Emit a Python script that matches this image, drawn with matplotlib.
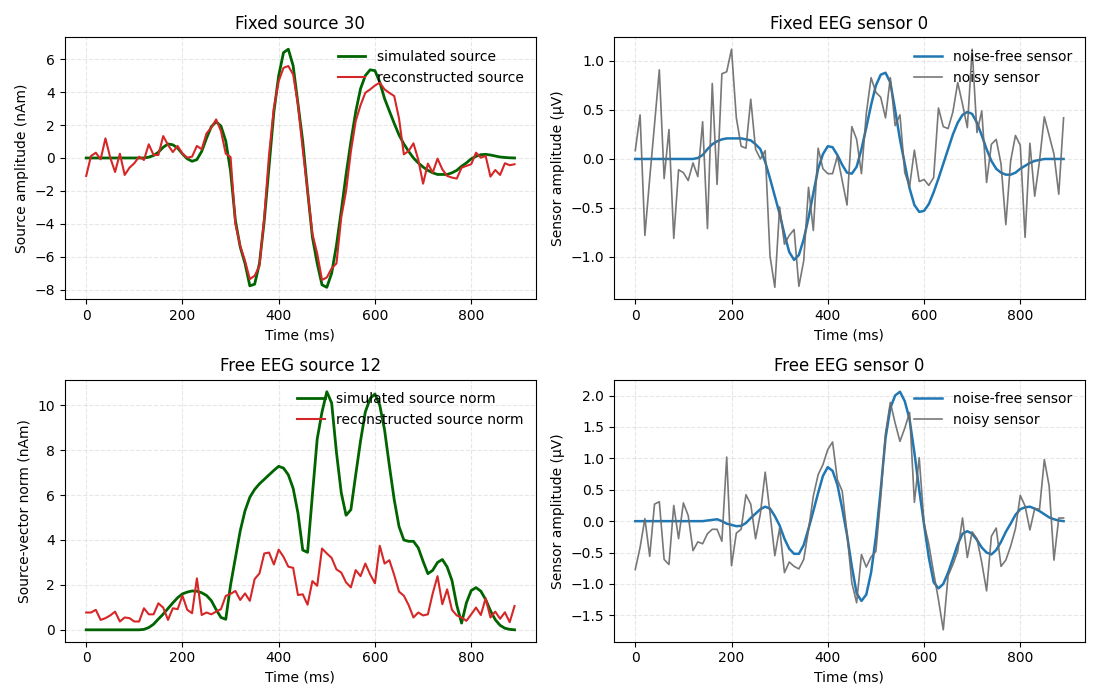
import numpy as np
import matplotlib
matplotlib.use("Agg")
import matplotlib.pyplot as plt

# time axis (ms), one sample every 10 ms
times = np.arange(0, 900, 10)

# Fixed source 30 (nAm)
fixed_sim = [0, 0, 0, 0, 0, 0, 0, 0, 0, 0,
             0, 0, 0, 0.05, 0.15, 0.35, 0.65, 0.85, 0.8, 0.6,
             0.25, -0.05, -0.2, -0.1, 0.4, 1.2, 1.9, 2.2, 1.94, 1.03,
             -0.8, -3.8, -5.4, -6.4, -7.76, -7.66, -6.4, -3.8, -0.5, 2.8,
             5.0, 6.4, 6.6, 5.6, 3.3, 1.0, -2.0, -4.8, -6.4, -7.7,
             -7.85, -7.0, -5.3, -3.2, -1.0, 1.0, 2.8, 4.2, 5.0, 5.35,
             5.3, 4.6, 3.6, 2.85, 2.1, 1.4, 0.85, 0.4, 0.0, -0.3,
             -0.55, -0.75, -0.9, -1.0, -1.0, -1.0, -0.9, -0.75, -0.5, -0.3,
             -0.05, 0.1, 0.2, 0.22, 0.18, 0.12, 0.06, 0.03, 0.01, 0.0]
fixed_rec = [-1.09, 0.12, 0.32, -0.08, 1.19, 0.02, -0.85, 0.26, -1.03, -0.59,
             -0.32, 0.08, -0.12, 0.83, 0.18, 0.18, 1.33, 0.79, 0.36, 0.73,
             0.26, 0.02, 0.08, 0.73, 0.53, 1.49, 1.84, 2.34, 1.64, 0.26,
             0.06, -4.0, -5.33, -6.24, -7.35, -7.15, -6.55, -3.6, 0.22, 3.05,
             4.67, 5.47, 5.58, 5.07, 3.25, 0.5, -2.0, -4.6, -5.8, -7.4,
             -7.25, -6.7, -6.4, -3.6, -2.0, 0.4, 2.24, 3.2, 3.96, 4.16,
             4.4, 4.57, 4.16, 3.95, 3.76, 2.4, 0.22, 0.42, 0.89, -0.1,
             -1.56, -0.34, -0.89, -0.04, -0.69, -1.09, -1.19, -1.25, -0.59, -0.48,
             -0.38, 0.32, 0.02, 0.12, -1.13, -0.73, -1.03, -0.32, -0.44, -0.38]

# Fixed EEG sensor 0 (uV)
fixed_clean = [0, 0, 0, 0, 0, 0, 0, 0, 0, 0,
               0, 0, 0, 0.01, 0.04, 0.1, 0.15, 0.18, 0.2, 0.21,
               0.21, 0.21, 0.21, 0.2, 0.19, 0.15, 0.1, -0.03, -0.2, -0.38,
               -0.56, -0.77, -0.95, -1.03, -0.98, -0.82, -0.6, -0.35, -0.1, 0.05,
               0.13, 0.12, 0.04, -0.06, -0.14, -0.15, -0.08, 0.1, 0.32, 0.55,
               0.75, 0.86, 0.88, 0.78, 0.5, 0.2, -0.05, -0.3, -0.47, -0.54,
               -0.53, -0.46, -0.34, -0.2, -0.05, 0.1, 0.25, 0.37, 0.45, 0.48,
               0.46, 0.37, 0.24, 0.1, -0.02, -0.1, -0.14, -0.16, -0.16, -0.14,
               -0.1, -0.07, -0.04, -0.02, -0.01, 0, 0, 0, 0, 0]
fixed_noisy = [0.085, 0.45, -0.78, -0.2, 0.35, 0.91, -0.2, 0.3, -0.81, -0.11,
               -0.14, -0.22, -0.04, -0.18, 0.38, -0.71, 0.77, -0.26, 0.87, 0.89,
               1.12, 0.42, 0.13, 0.11, 0.61, 0.1, 0.0, 0.085, -0.99, -1.31,
               -0.49, -0.87, -0.78, -0.72, -1.3, -1.04, -0.29, -0.73, 0.11, -0.1,
               -0.15, -0.15, 0.03, -0.22, -0.47, 0.33, 0.2, -0.15, 0.46, 0.83,
               0.68, 0.63, 0.42, 0.83, 0.34, 0.45, -0.14, -0.28, 0.09, -0.23,
               -0.21, -0.27, -0.19, 0.52, 0.33, 0.31, 0.48, 0.78, 0.56, 0.32,
               1.12, 0.27, 0.49, -0.24, 0.15, 0.2, -0.05, -0.67, -0.02, 0.24,
               0.14, -0.8, 0.16, -0.38, -0.02, 0.43, 0.24, 0.05, -0.36, 0.42]

# Free EEG source 12 (nAm, vector norm)
free_sim = [0, 0, 0, 0, 0, 0, 0, 0, 0, 0,
            0, 0, 0.02, 0.1, 0.25, 0.48, 0.7, 0.95, 1.2, 1.43,
            1.6, 1.68, 1.73, 1.72, 1.65, 1.53, 1.3, 0.9, 0.55, 0.47,
            2.0, 3.2, 4.4, 5.3, 5.9, 6.25, 6.5, 6.7, 6.9, 7.1,
            7.28, 7.2, 6.9, 6.3, 5.2, 3.55, 3.45, 6.0, 8.5, 9.7,
            10.6, 10.1, 7.9, 6.1, 5.1, 5.35, 6.9, 8.4, 9.7, 10.3,
            10.5, 10.0, 8.9, 7.3, 5.8, 4.6, 4.0, 3.94, 3.94, 3.65,
            3.05, 2.5, 2.65, 3.0, 3.13, 2.8, 2.2, 1.1, 0.3, 1.2,
            1.75, 1.88, 1.72, 1.35, 0.85, 0.45, 0.2, 0.07, 0.02, 0.0]
free_rec = [0.77, 0.77, 0.89, 0.44, 0.52, 0.64, 0.81, 0.37, 0.55, 0.52,
            0.37, 0.37, 0.96, 0.69, 0.69, 1.18, 0.99, 0.44, 0.96, 0.92,
            1.52, 0.89, 0.74, 2.29, 0.66, 0.77, 0.69, 0.81, 0.92, 1.51,
            1.6, 1.73, 1.33, 1.62, 1.29, 2.26, 2.51, 3.4, 3.44, 2.91,
            3.57, 3.25, 2.81, 2.76, 1.55, 1.58, 1.12, 2.17, 1.96, 3.62,
            3.4, 3.2, 2.69, 2.55, 2.11, 1.89, 2.66, 2.39, 2.95, 2.47,
            2.07, 3.74, 2.95, 3.1, 2.44, 1.7, 1.52, 1.1, 0.55, 0.77,
            0.64, 0.69, 1.62, 2.39, 1.14, 1.8, 0.89, 0.64, 0.55, 0.4,
            0.69, 0.99, 0.66, 1.4, 0.55, 0.81, 0.49, 0.78, 0.34, 1.06]

# Free EEG sensor 0 (uV)
free_clean = [0, 0, 0, 0, 0, 0, 0, 0, 0, 0,
              0, 0, 0, 0, 0, 0.01, 0.02, 0.03, 0.0, -0.04,
              -0.06, -0.08, -0.075, -0.03, 0.05, 0.12, 0.19, 0.23, 0.2, 0.08,
              -0.07, -0.28, -0.44, -0.52, -0.52, -0.38, -0.12, 0.16, 0.45, 0.72,
              0.86, 0.8, 0.58, 0.2, -0.22, -0.72, -1.15, -1.27, -1.17, -0.82,
              -0.25, 0.5, 1.32, 1.8, 2.0, 2.06, 1.91, 1.62, 1.09, 0.5,
              -0.05, -0.58, -0.97, -1.07, -1.0, -0.82, -0.6, -0.37, -0.2, -0.16,
              -0.2, -0.3, -0.42, -0.5, -0.53, -0.46, -0.33, -0.17, -0.04, 0.1,
              0.19, 0.22, 0.23, 0.2, 0.16, 0.11, 0.06, 0.03, 0.01, 0.0]
free_noisy = [-0.77, -0.42, 0.04, -0.56, 0.27, 0.31, -0.61, -0.69, 0.25, -0.28,
              0.29, 0.09, -0.47, -0.33, -0.36, -0.2, -0.13, -0.13, -0.32, 1.02,
              -0.71, -0.19, -0.13, 0.42, 0.27, -0.28, 0.12, 0.78, 0.13, -0.55,
              -0.11, -0.82, -0.65, -0.72, -0.76, -0.61, -0.14, 0.4, 0.74, 0.9,
              1.14, 1.26, 0.66, 0.48, -0.19, -0.98, -1.3, -0.53, -0.73, -0.57,
              -0.48, 0.37, 1.4, 1.89, 1.56, 1.27, 1.48, 1.73, 0.3, 1.01,
              -0.03, -0.37, -0.82, -1.25, -1.73, -0.87, -0.69, -0.48, 0.05, -0.58,
              -0.17, -0.28, -0.66, -1.11, -0.24, -0.11, -0.72, -0.62, -0.4, -0.12,
              0.41, 0.24, -0.14, 0.2, 0.19, 0.98, 0.56, -0.62, 0.05, 0.05]

fig, axes = plt.subplots(2, 2, figsize=(11, 7), dpi=100)

ax = axes[0, 0]
ax.plot(times, fixed_sim, color='darkgreen', lw=2, label='simulated source')
ax.plot(times, fixed_rec, color='tab:red', lw=1.5, label='reconstructed source')
ax.set_title('Fixed source 30')
ax.set_ylabel('Source amplitude (nAm)')

ax = axes[0, 1]
ax.plot(times, fixed_clean, color='tab:blue', lw=1.8, label='noise-free sensor')
ax.plot(times, fixed_noisy, color='dimgray', lw=1.2, alpha=0.9, label='noisy sensor')
ax.set_title('Fixed EEG sensor 0')
ax.set_ylabel('Sensor amplitude (µV)')

ax = axes[1, 0]
ax.plot(times, free_sim, color='darkgreen', lw=2, label='simulated source norm')
ax.plot(times, free_rec, color='tab:red', lw=1.5, label='reconstructed source norm')
ax.set_title('Free EEG source 12')
ax.set_ylabel('Source-vector norm (nAm)')

ax = axes[1, 1]
ax.plot(times, free_clean, color='tab:blue', lw=1.8, label='noise-free sensor')
ax.plot(times, free_noisy, color='dimgray', lw=1.2, alpha=0.9, label='noisy sensor')
ax.set_title('Free EEG sensor 0')
ax.set_ylabel('Sensor amplitude (µV)')

for ax in axes.flat:
    ax.set_xlabel('Time (ms)')
    ax.grid(True, ls='--', alpha=0.3)
    ax.legend(loc='upper right', frameon=False)

plt.tight_layout()
plt.savefig('out.png')
